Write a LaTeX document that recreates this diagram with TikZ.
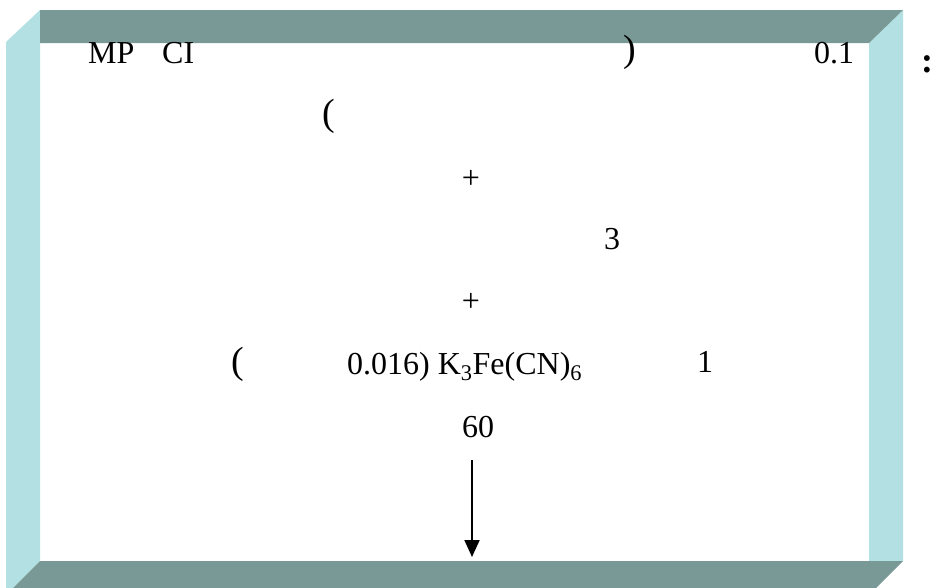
\documentclass[tikz,border=0pt]{standalone}
\usepackage{fontspec}
\setmainfont{Liberation Serif}
\usetikzlibrary{arrows.meta}
\definecolor{framecolor0001}{RGB}{120,153,150}
\definecolor{framecolor0002}{RGB}{179,224,226}

\begin{document}
\begin{tikzpicture}[yscale=-1
            ,pstyle0/.style={fill=framecolor0001}
            ,pstyle1/.style={fill=framecolor0002}
            ,pstyle2/.style={color=black,line width=1.8pt,-{Triangle[length=17pt,width=15pt]}}
            ,tstyle0/.style={anchor=base west,inner sep=0pt,color=black,font=\fontsize{32pt}{36pt}\selectfont}
            ,tstyle1/.style={anchor=center,inner sep=0pt,color=black,font=\fontsize{38pt}{42pt}\selectfont}
        ]
        \useasboundingbox (0pt,0pt) rectangle (936pt,587pt);
        \fill[pstyle1] (6pt,42pt) -- (40pt,10pt) -- (40pt,561pt) -- (6pt,595pt) -- cycle;
        \fill[pstyle1] (869pt,43pt) -- (903pt,10pt) -- (903pt,561pt) -- (869pt,561pt) -- cycle;
        \fill[pstyle0] (40pt,10pt) -- (903pt,10pt) -- (869pt,43pt) -- (40pt,43pt) -- cycle;
        \fill[pstyle0] (40pt,561pt) -- (903pt,561pt) -- (869pt,595pt) -- (6pt,595pt) -- cycle;
        \node (txt01) at (88pt,63pt)[tstyle0]{MP};
        \node (txt02) at (162pt,63pt)[tstyle0]{CI};
        \node (txt03) at (630pt,52pt)[tstyle1]{)};
        \node (txt04) at (814pt,63pt)[tstyle0]{0.1};
        \node (txt05) at (921pt,72pt)[tstyle0,font=\fontsize{36pt}{40pt}\selectfont\bfseries]{:};
        \node (txt06) at (329pt,116pt)[tstyle1]{(};
        \node (txt07) at (471pt,179pt)[tstyle0,anchor=center]{+};
        \node (txt08) at (604pt,249pt)[tstyle0]{3};
        \node (txt09) at (471pt,302pt)[tstyle0,anchor=center]{+};
        \node (txt10) at (238pt,364pt)[tstyle1]{(};
        \node (txt11) at (347pt,374pt)[tstyle0]{0.016) K\textsubscript{3}Fe(CN)\textsubscript{6}};
        \node (txt12) at (697pt,372pt)[tstyle0]{1};
        \node (txt13) at (462pt,437pt)[tstyle0]{60};
        \coordinate (arrowtop) at (472pt,460pt);
        \coordinate (arrowend) at (472pt,557pt);
        \draw[pstyle2] (arrowtop) -- (arrowend);
    \end{tikzpicture}
\end{document}
